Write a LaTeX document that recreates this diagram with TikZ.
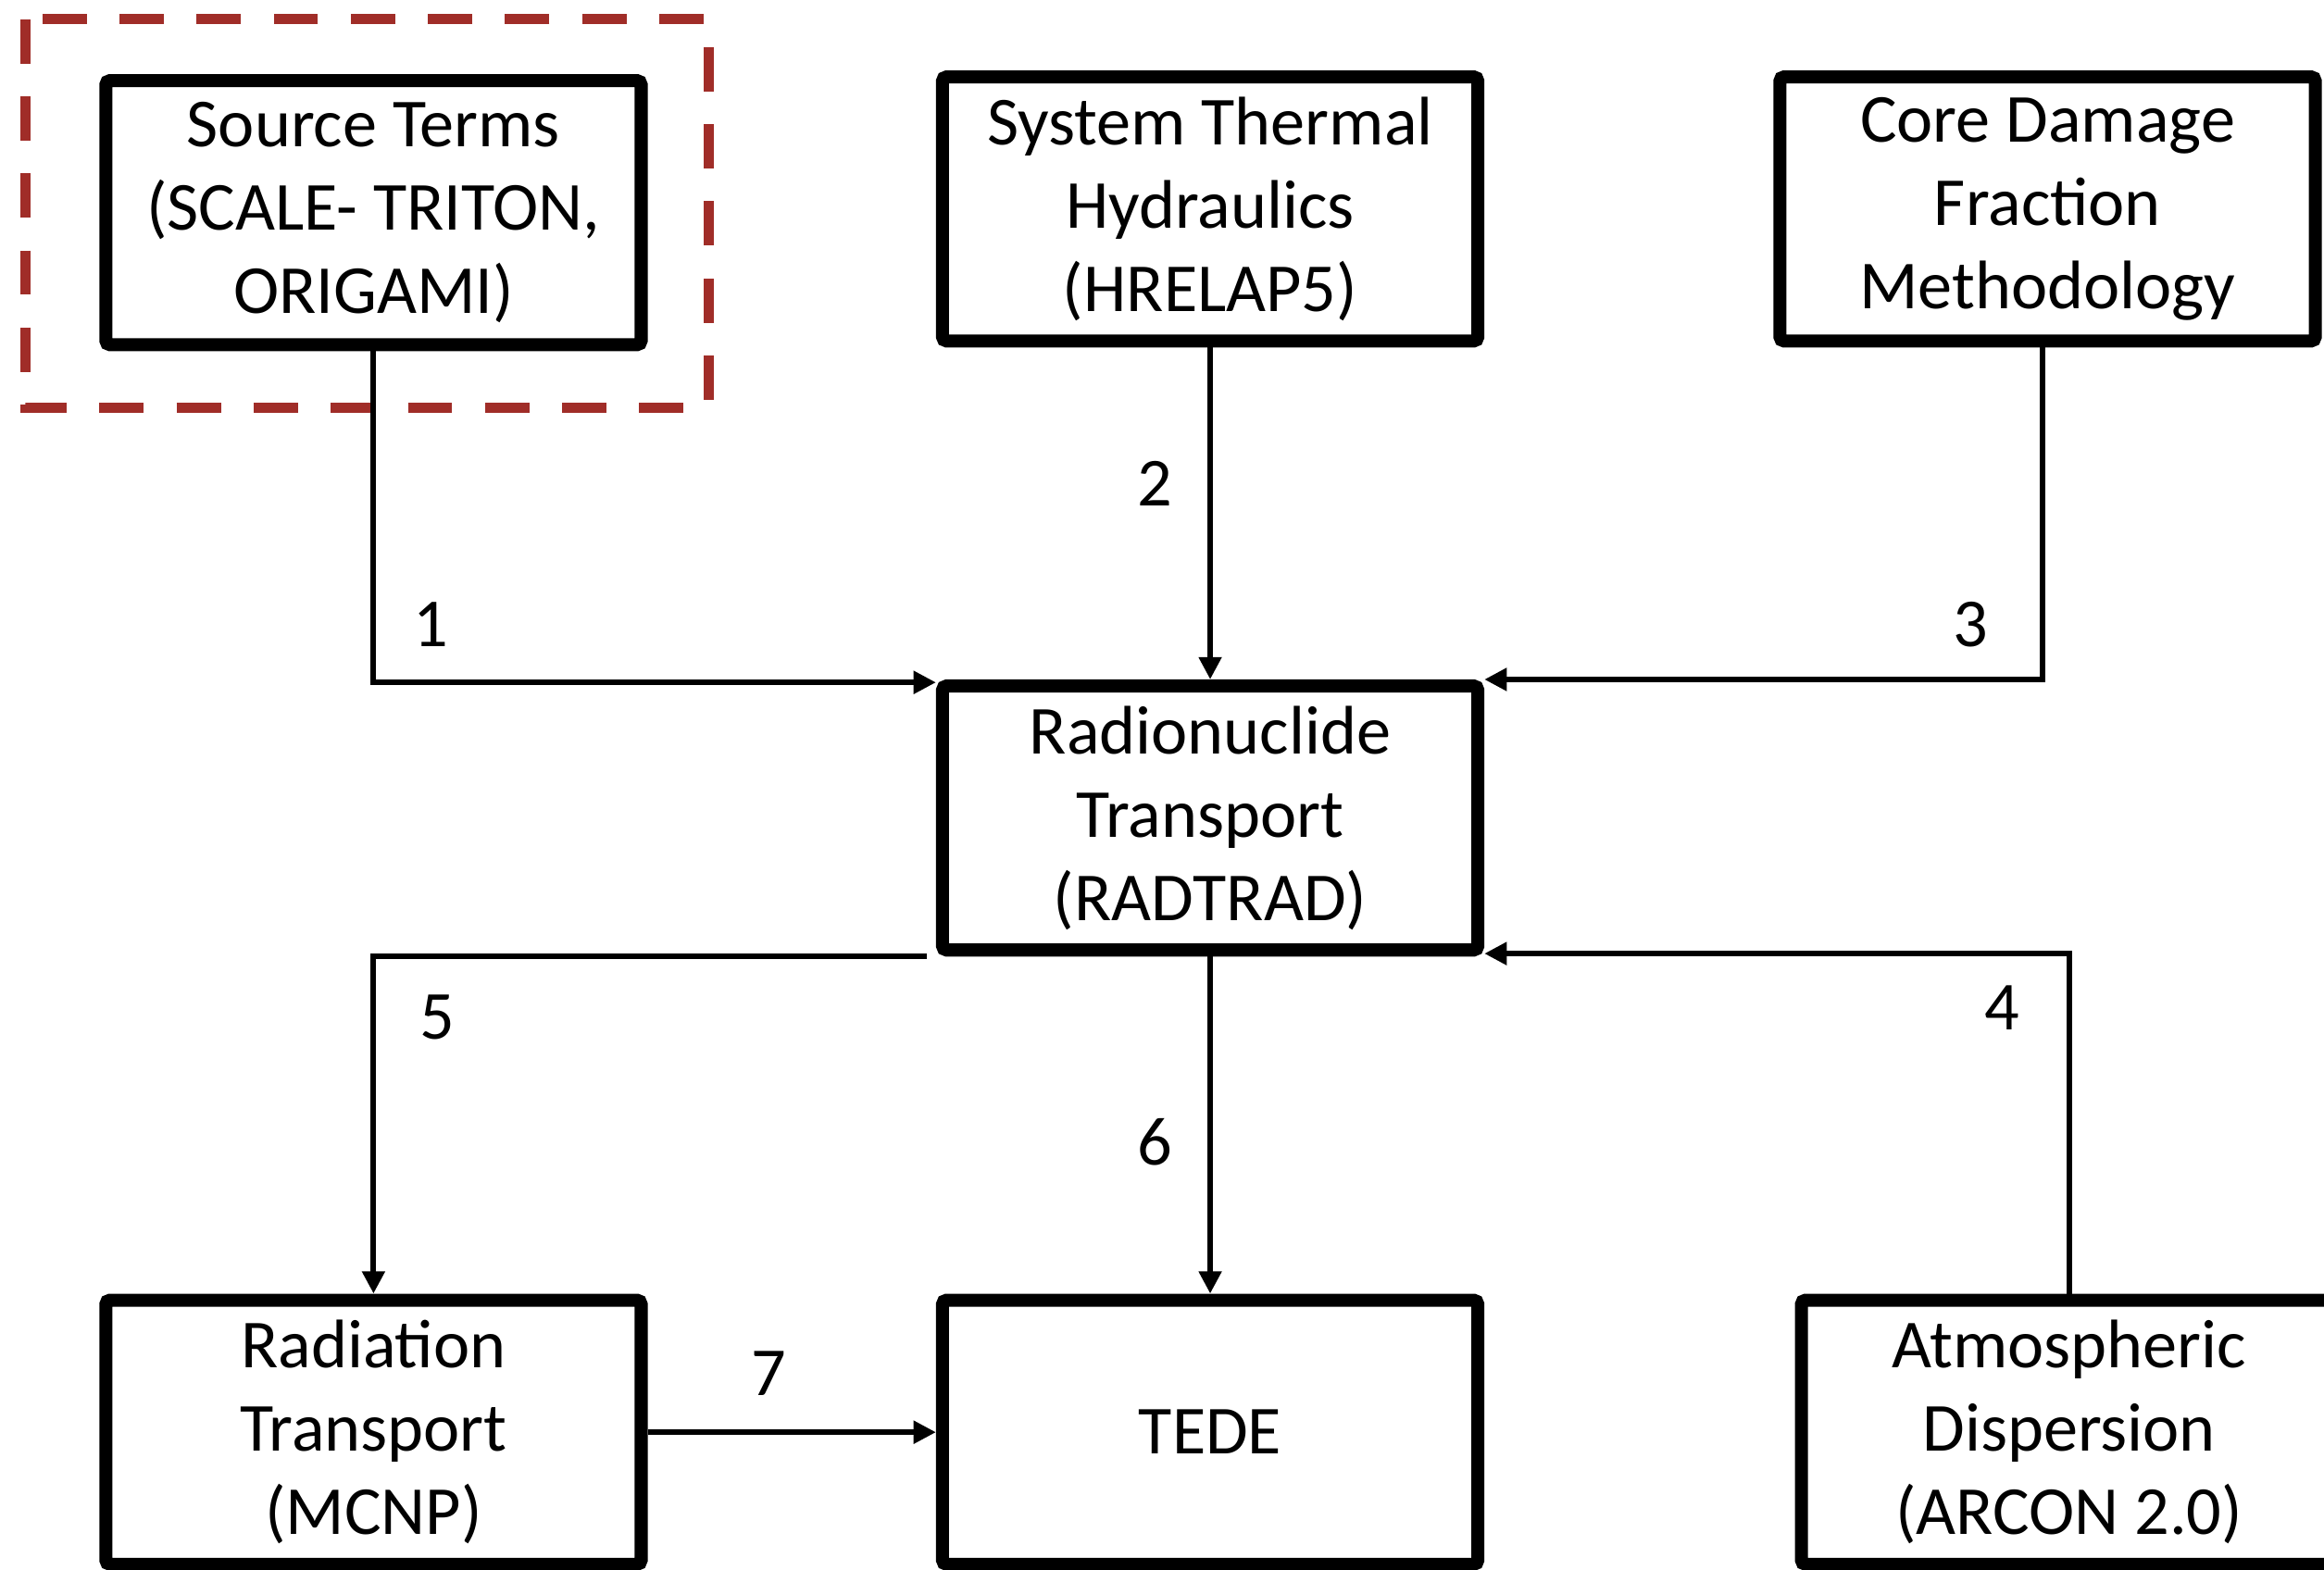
\documentclass[tikz,border=0pt]{standalone}
\usepackage{fontspec}
\setmainfont{Carlito}
\usepackage{tikz}
\usetikzlibrary{arrows.meta, positioning, calc}
\definecolor{hired}{RGB}{160,45,40}

\begin{document}
\begin{tikzpicture}[
  every node/.style={font=\fontsize{13.2}{16}\selectfont, align=center},
  box/.style={draw, line width=2.5pt, minimum width=3.612cm, minimum height=1.782cm,
              fill=white, rounded corners=0.8pt, inner sep=2pt},
  arr/.style={-{Triangle[length=4.3pt, width=4.2pt]}, line width=1.1pt},
  num/.style={inner sep=0pt},
  hilite/.style={draw=hired, line width=2pt, dash pattern=on 8.5pt off 6.3pt},
]
  \useasboundingbox (0,0) rectangle (15.68,-10.59);

  \node[box] (src)  at (2.52, -1.435)  {Source Terms\\(SCALE- TRITON,\\ORIGAMI)};
  \node[box] (sth)  at (8.165, -1.41)  {System Thermal\\Hydraulics\\(HRELAP5)};
  \node[box] (cdf)  at (13.815, -1.41) {Core Damage\\Fraction\\Methodology};
  \node[box] (rnt)  at (8.165, -5.52)  {Radionuclide\\Transport\\(RADTRAD)};
  \node[box] (rad)  at (2.52, -9.665)  {Radiation\\Transport\\(MCNP)};
  \node[box] (tede) at (8.165, -9.665) {TEDE};
  \node[box] (atm)  at (13.96, -9.665) {Atmospheric\\Dispersion\\(ARCON 2.0)};

  % highlight around the source terms
  \draw[hilite] ($(src.north west)+(-0.50,0.37)$) rectangle ($(src.south east)+(0.41,-0.38)$);

  \draw[arr] (src.south) |- node[num, pos=.551, yshift=3.9mm] {1} ([yshift=-.2mm]rnt.north west);
  \draw[arr] (sth.south) -- node[num, pos=.41, xshift=-3.75mm] {2} (rnt.north);
  \draw[arr] ([xshift=-.35mm]cdf.south) |- node[num, pos=.564, yshift=3.7mm] {3} (rnt.north east);
  \draw[arr] (atm.north) |- node[num, pos=.42, xshift=-4.5mm] {4} ([yshift=.2mm]rnt.south east);
  \draw[arr] ([xshift=-.6mm]rnt.south west) -| node[num, pos=.59, xshift=4.3mm] {5} (rad.north);
  \draw[arr] (rnt.south) -- node[num, pos=.55, xshift=-3.75mm] {6} (tede.north);
  \draw[arr] (rad.east) -- node[num, pos=.42, yshift=3.95mm] {7} (tede.west);
\end{tikzpicture}
\end{document}
